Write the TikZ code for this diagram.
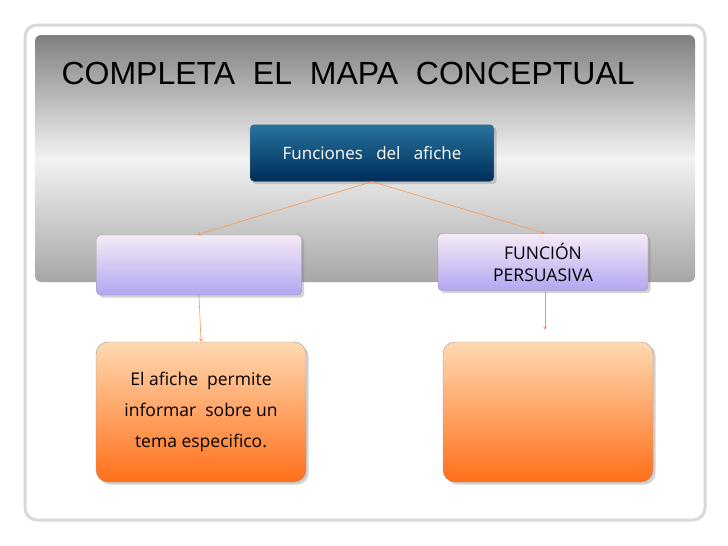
\documentclass[tikz,border=0pt]{standalone}
\usepackage{fontspec}
\setmainfont{Open Sans}
\newfontfamily\titlefont{Liberation Sans}
\usetikzlibrary{positioning,shadows}
\begin{document}
\begin{tikzpicture}[x=1pt,y=-1pt]
        \tikzstyle{line} = [->,>=stealth, draw=orange!80!red!70, line width=0.6pt]
        \tikzstyle{box} = [rectangle, rounded corners=4pt, align=center, draw=black!40, drop shadow={opacity=0.35}]
        \tikzstyle{top} = [box, top color=blue!35!cyan!55!black!85, bottom color=blue!50!cyan!35!black, text=white, minimum width=244pt, minimum height=57pt, font=\fontsize{17}{20}\selectfont]
        \tikzstyle{lila} = [box, top color=white!92!violet, bottom color=violet!30!blue!35!white, minimum width=205pt, minimum height=60pt, font=\fontsize{17.5}{22}\selectfont]
        \tikzstyle{naranja} = [box, top color=orange!30!white, bottom color=orange!75!red!90, minimum width=210pt, minimum height=140pt, rounded corners=12pt, font=\fontsize{17.5}{31}\selectfont]

        \useasboundingbox (0,0) rectangle (728,546);
        \fill[white] (0,0) rectangle (728,546);
        \draw[black!15, line width=3pt, rounded corners=12pt] (25,25) rectangle (705,520);
        \shade[top color=black!50, bottom color=black!35, middle color=white!95!black, rounded corners=6pt] (35,35) rectangle (695,282);

        \node[anchor=west, font=\titlefont\fontsize{32}{34}\selectfont] (titulo) at (58,73) {COMPLETA\ \ EL\ \ MAPA\ \ CONCEPTUAL};

        \node(funciones) [top] at (372,153) {Funciones\ \ \ del\ \ \ afiche};
        \node(izq) [lila] at (199,265) {};
        \node(der) [lila, minimum width=210pt, minimum height=57pt] at (543,262) {FUNCIÓN\\PERSUASIVA};
        \node(info) [naranja] at (201,412) {El afiche\ \ permite\\informar\ \ sobre un\\tema especifico.};
        \node(vacio) [naranja] at (548,412) {};

        \draw[line] (funciones.south) -- ([xshift=-2pt]izq.north);
        \draw[line] (funciones.south) -- ([xshift=2pt]der.north);
        \draw[line] (izq.south) -- (info.north);
        \draw[line] ([xshift=2pt]der.south) -- ([xshift=-3pt,yshift=12pt]vacio.north);
\end{tikzpicture}
\end{document}
